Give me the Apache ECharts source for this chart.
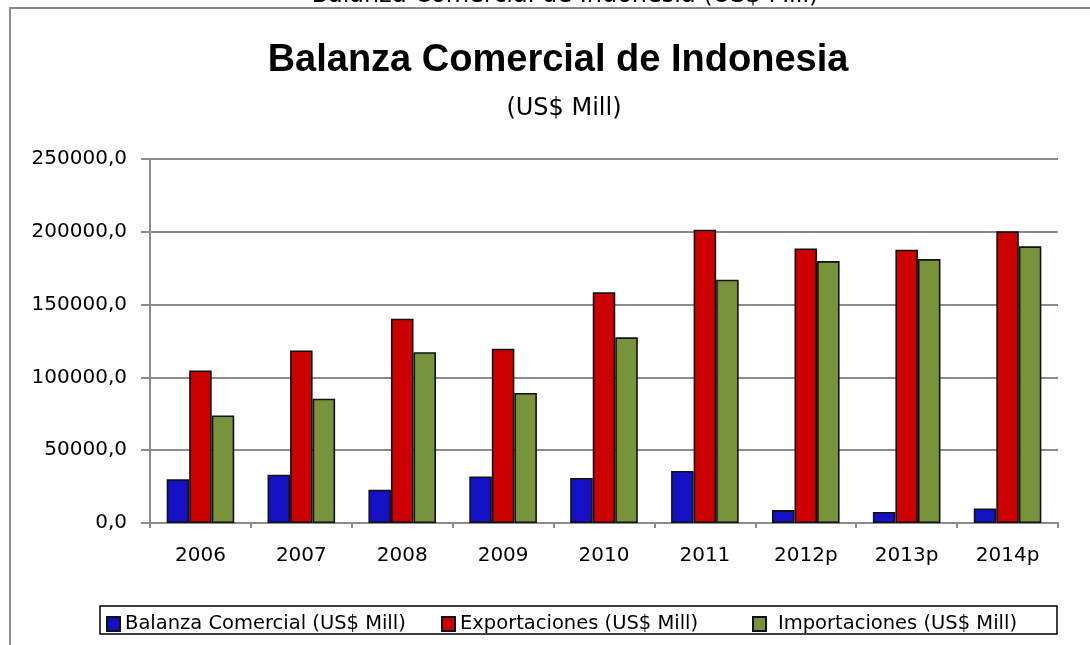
<!DOCTYPE html>
<html>
<head>
<meta charset="utf-8">
<script src="https://cdn.jsdelivr.net/npm/echarts@6/dist/echarts.min.js"></script>
<style>html,body{margin:0;padding:0;background:#fff}#c{width:1090px;height:645px}</style>
</head>
<body>
<div id="c"></div>
<script>
var categories = ['2006','2007','2008','2009','2010','2011','2012p','2013p','2014p'];
var balanza = [30000, 33200, 22900, 32000, 30900, 35700, 8900, 7600, 10000];
var exportaciones = [104800, 118500, 140300, 119700, 158400, 201400, 188600, 187700, 200300];
var importaciones = [73900, 85400, 117300, 89300, 127500, 167100, 179900, 181300, 190000];
var seriesNames = ['Balanza Comercial (US$ Mill)', 'Exportaciones (US$ Mill)', 'Importaciones (US$ Mill)'];
var yTicks = { min: 0, max: 250000, interval: 50000 };

var FONT = '"DejaVu Sans", "Liberation Sans", sans-serif';
var chart = echarts.init(document.getElementById('c'), null, {renderer: 'canvas'});
var barStyle = function (c) { return { color: c, borderColor: '#111', borderWidth: 1.6 }; };
var legendAt = function (left, name, pad) {
  return {
    left: left, top: 609, z: 5,
    itemWidth: 13, itemHeight: 14, icon: 'rect',
    textStyle: { fontFamily: FONT, fontSize: 19.5, color: '#000', padding: [0, 0, 0, pad] },
    data: [name]
  };
};
chart.setOption({
  animation: false,
  backgroundColor: '#fff',
  graphic: [
    { type: 'rect', shape: { x: 10, y: 8, width: 1200, height: 1000 }, style: { fill: 'none', stroke: '#8c8c8c', lineWidth: 2 }, z: 0 },
    { type: 'text', x: 565, y: 8, style: { text: 'Balanza Comercial de Indonesia (US$ Mill)', font: '24px ' + FONT, fill: '#000', align: 'center', verticalAlign: 'bottom' } },
    { type: 'rect', shape: { x: 100, y: 606, width: 957, height: 28 }, style: { fill: '#fff', stroke: '#000', lineWidth: 1.5 }, z: 1 }
  ],
  title: [
    { text: 'Balanza Comercial de Indonesia', left: 553, top: 37, textAlign: 'center',
      textStyle: { fontFamily: '"Liberation Sans Narrow", "Liberation Sans", sans-serif', fontWeight: 'bold', fontSize: 38, color: '#000' } },
    { text: '(US$ Mill)', left: 559, top: 92, textAlign: 'center',
      textStyle: { fontFamily: FONT, fontWeight: 'normal', fontSize: 24, color: '#000' } }
  ],
  legend: [
    legendAt(101, seriesNames[0], 0),
    legendAt(436, seriesNames[1], 0),
    legendAt(747, seriesNames[2], 7)
  ],
  grid: { left: 150, right: 32, top: 159, bottom: 122, containLabel: false },
  xAxis: {
    type: 'category', data: categories,
    axisLine: { lineStyle: { color: '#8c8c8c', width: 2 } },
    axisTick: { show: true, length: 5, lineStyle: { color: '#8c8c8c', width: 2 } },
    axisLabel: { fontFamily: FONT, fontSize: 20, color: '#000', margin: 23 }
  },
  yAxis: {
    type: 'value', min: yTicks.min, max: yTicks.max, interval: yTicks.interval,
    axisLine: { show: true, lineStyle: { color: '#8c8c8c', width: 2 } },
    axisTick: { show: true, length: 9, lineStyle: { color: '#8c8c8c', width: 2 } },
    splitLine: { lineStyle: { color: '#8c8c8c', width: 2 } },
    axisLabel: { fontFamily: FONT, fontSize: 20, color: '#000', margin: 23,
      formatter: function (v) { return v.toFixed(1).replace('.', ','); } }
  },
  series: [
    { name: seriesNames[0], type: 'bar', data: balanza, itemStyle: barStyle('#1410c4'), barGap: '0%', barCategoryGap: '33%' },
    { name: seriesNames[1], type: 'bar', data: exportaciones, itemStyle: barStyle('#cc0000') },
    { name: seriesNames[2], type: 'bar', data: importaciones, itemStyle: barStyle('#77933c') }
  ]
});
</script>
</body>
</html>
